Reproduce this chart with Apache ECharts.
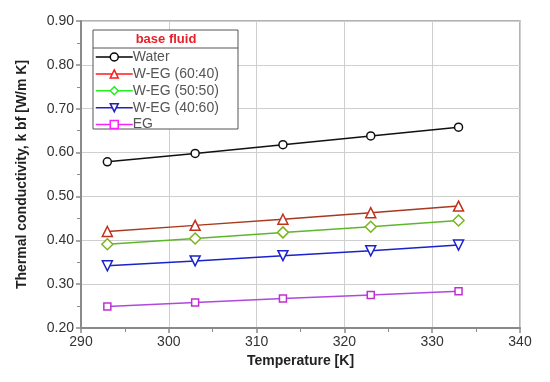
<!DOCTYPE html>
<html><head><meta charset="utf-8">
<script src="https://cdn.jsdelivr.net/npm/echarts@6/dist/echarts.min.js"></script>
<style>html,body{margin:0;padding:0;background:#fff}#c{width:550px;height:382px}</style>
</head><body><div id="c"></div>
<script>
const temperatures = [293, 303, 313, 323, 333];
const water = [0.579, 0.598, 0.618, 0.638, 0.658];
const weg6040 = [0.420, 0.434, 0.448, 0.463, 0.478];
const weg5050 = [0.391, 0.404, 0.418, 0.431, 0.445];
const weg4060 = [0.342, 0.353, 0.365, 0.376, 0.389];
const eg = [0.249, 0.258, 0.267, 0.275, 0.284];
const seriesNames = ['Water', 'W-EG (60:40)', 'W-EG (50:50)', 'W-EG (40:60)', 'EG'];
const yTicks = [0.2, 0.3, 0.4, 0.5, 0.6, 0.7, 0.8, 0.9];
const xTicks = [290, 300, 310, 320, 330, 340];

const chart = echarts.init(document.getElementById('c'));
const font = 'Liberation Sans, Arial, sans-serif';
function pairs(v){ return temperatures.map((t,i)=>[t, v[i]]); }
const defs = [
  {name: seriesNames[0], data: water,   line: '#111111', mark: '#111111', legend: '#000000', symbol: 'circle', size: 8, rot: 0},
  {name: seriesNames[1], data: weg6040, line: '#a8381e', mark: '#c0301c', legend: '#ff1a1a', symbol: 'triangle', size: 10, rot: 0},
  {name: seriesNames[2], data: weg5050, line: '#5cb82a', mark: '#7ab51e', legend: '#22ee22', symbol: 'diamond', size: 11, rot: 0},
  {name: seriesNames[3], data: weg4060, line: '#1a22cc', mark: '#1a22cc', legend: '#2020c0', symbol: 'triangle', size: 10, rot: 180},
  {name: seriesNames[4], data: eg,      line: '#b048e0', mark: '#c030d0', legend: '#ff20ff', symbol: 'rect', size: 7, rot: 0}
];
const series = defs.map(d => ({
  name: d.name, type: 'line', data: pairs(d.data),
  symbol: d.symbol, symbolSize: d.size, symbolRotate: d.rot, showAllSymbol: true,
  lineStyle: {color: d.line, width: 1.5},
  itemStyle: {color: '#ffffff', borderColor: d.mark, borderWidth: 1.5},
  emphasis: {disabled: true}, z: 3
}));
const option = {
  animation: false,
  backgroundColor: '#fff',
  grid: {left: 81, right: 30, top: 21, bottom: 54, show: true, borderColor: '#9a9a9a', borderWidth: 1.5, backgroundColor: 'transparent'},
  title: {text: 'base fluid', left: 166, top: 33, textAlign: 'center', z: 20, padding: 0,
    textStyle: {color: '#e8202a', fontSize: 13, fontWeight: 'bold', fontFamily: font}},
  legend: {
    orient: 'vertical', left: 95, top: 50, itemWidth: 37, itemHeight: 10, itemGap: 2.9, z: 20, padding: 0,
    textStyle: {color: '#555', fontSize: 14, fontFamily: font, padding: [0,0,0,-5], lineHeight: 14},
    data: defs.map(d => ({name: d.name, itemStyle: {color: '#fff', borderColor: d.legend, borderWidth: 1.5}, lineStyle: {color: d.legend, width: 1.5}}))
  },
  graphic: [
    {type: 'rect', shape: {x: 93, y: 30, width: 145, height: 99}, style: {fill: '#fff', stroke: '#555', lineWidth: 1}, z: 5, silent: true},
    {type: 'line', shape: {x1: 93, y1: 48, x2: 238, y2: 48}, style: {stroke: '#555', lineWidth: 1}, z: 6, silent: true}
  ],
  xAxis: {
    type: 'value', min: xTicks[0], max: xTicks[xTicks.length-1], interval: 10,
    name: 'Temperature [K]', nameLocation: 'middle', nameGap: 26,
    nameTextStyle: {fontSize: 14, fontWeight: 'bold', color: '#222', fontFamily: font},
    axisLine: {show: true, lineStyle: {color: '#8a8a8a', width: 2}},
    axisTick: {show: true, length: 5, lineStyle: {color: '#8a8a8a', width: 1.5}},
    minorTick: {show: true, splitNumber: 2, length: 4, lineStyle: {color: '#8a8a8a'}},
    axisLabel: {fontSize: 14, color: '#333', fontFamily: font, margin: 7},
    splitLine: {show: true, lineStyle: {color: '#cfcfcf', width: 1}}
  },
  yAxis: {
    type: 'value', min: yTicks[0], max: yTicks[yTicks.length-1], interval: 0.1,
    name: 'Thermal conductivity, k bf [W/m K]', nameLocation: 'middle', nameGap: 52,
    nameTextStyle: {fontSize: 14, fontWeight: 'bold', color: '#222', fontFamily: font},
    axisLine: {show: true, lineStyle: {color: '#8a8a8a', width: 2}},
    axisTick: {show: true, length: 5, lineStyle: {color: '#8a8a8a', width: 1.5}},
    minorTick: {show: true, splitNumber: 2, length: 4, lineStyle: {color: '#8a8a8a'}},
    axisLabel: {fontSize: 14, color: '#333', fontFamily: font, margin: 7, formatter: v => v.toFixed(2)},
    splitLine: {show: true, lineStyle: {color: '#cfcfcf', width: 1}}
  },
  series: series
};
chart.setOption(option);
</script></body></html>
